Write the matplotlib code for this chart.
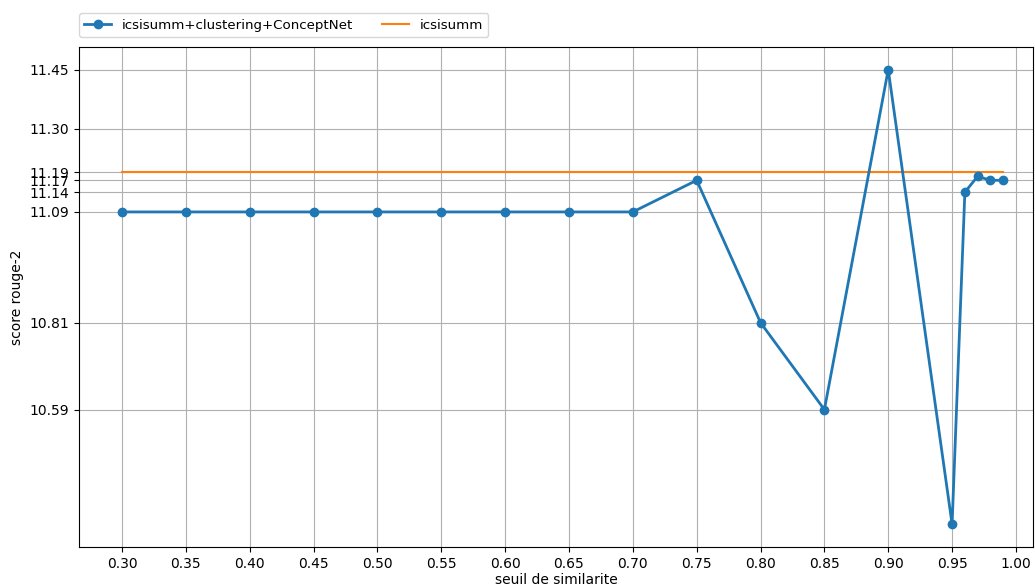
import matplotlib
matplotlib.use("Agg")
import matplotlib.pyplot as plt

thresholds = [0.30, 0.35, 0.40, 0.45, 0.50, 0.55, 0.60, 0.65, 0.70, 0.75,
              0.80, 0.85, 0.90, 0.95, 0.96, 0.97, 0.98, 0.99]
scores = [11.09, 11.09, 11.09, 11.09, 11.09, 11.09, 11.09, 11.09, 11.09, 11.17,
          10.81, 10.59, 11.45, 10.30, 11.14, 11.18, 11.17, 11.17]
baseline = [11.19] * len(thresholds)
xticks = [0.30, 0.35, 0.40, 0.45, 0.50, 0.55, 0.60, 0.65, 0.70, 0.75,
          0.80, 0.85, 0.90, 0.95, 1.00]
yticks = [10.59, 10.81, 11.09, 11.14, 11.17, 11.19, 11.30, 11.45]

fig = plt.figure(figsize=(10.35, 5.86), dpi=100)
ax = fig.add_axes([0.0763, 0.0666, 0.9217, 0.8534])
ax.plot(thresholds, scores, marker='o', linewidth=2, color='#1f77b4',
        label='icsisumm+clustering+ConceptNet', zorder=3)
ax.plot(thresholds, baseline, color='#ff7f0e', linewidth=1.5, label='icsisumm', zorder=2)
ax.set_xticks(xticks)
ax.set_xticklabels([f"{v:.2f}" for v in xticks])
ax.set_yticks(yticks)
ax.set_yticklabels([f"{v:.2f}" for v in yticks])
ax.set_xlim(0.2663, 1.0133)
ax.set_ylim(10.2425, 11.5075)
ax.grid(True)
ax.set_xlabel('seuil de similarite', labelpad=2)
ax.set_ylabel('score rouge-2')
ax.legend(loc='lower left', bbox_to_anchor=(0, 1.02), ncol=2, borderaxespad=0,
          fontsize=9.6, columnspacing=2.2)
fig.savefig('out.png', dpi=100)
